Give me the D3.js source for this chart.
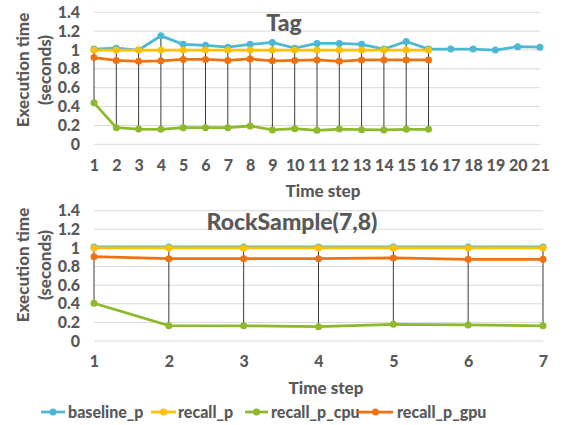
<!DOCTYPE html>
<html>
<head>
<meta charset="utf-8">
<script src="https://cdn.jsdelivr.net/npm/d3@7"></script>
<style>
  body { margin: 0; background: #fff; }
  text { font-family: Lato, "Open Sans", sans-serif; font-weight: 900; fill: #595959; }
</style>
</head>
<body>
<div id="chart"></div>
<script>
// series names + colours
const seriesNames = ["baseline_p", "recall_p", "recall_p_cpu", "recall_p_gpu"];
const seriesColors = ["#4bb8d4", "#ffc000", "#8cba2a", "#ef7212"];
const yTicks = [0, 0.2, 0.4, 0.6, 0.8, 1, 1.2, 1.4];

// Tag panel
const tagSteps = d3.range(1, 22);
const tagBaseline = [1.01, 1.02, 1.00, 1.15, 1.06, 1.05, 1.03, 1.06, 1.08, 1.02, 1.07, 1.07, 1.06, 1.01, 1.09, 1.01, 1.01, 1.01, 1.00, 1.035, 1.03];
const tagRecall = [1.00, 1.00, 1.00, 1.00, 1.00, 1.00, 1.00, 1.00, 1.00, 1.00, 1.00, 1.00, 1.00, 1.00, 1.00, 1.00];
const tagCpu = [0.44, 0.176, 0.162, 0.159, 0.176, 0.176, 0.176, 0.194, 0.152, 0.166, 0.148, 0.162, 0.155, 0.152, 0.159, 0.159];
const tagGpu = [0.92, 0.89, 0.88, 0.885, 0.90, 0.90, 0.89, 0.905, 0.885, 0.89, 0.895, 0.88, 0.895, 0.895, 0.895, 0.895];

// RockSample(7,8) panel
const rockSteps = d3.range(1, 8);
const rockBaseline = [1.01, 1.01, 1.01, 1.01, 1.01, 1.01, 1.01];
const rockRecall = [1.00, 1.00, 1.00, 1.00, 1.00, 1.00, 1.00];
const rockCpu = [0.405, 0.165, 0.163, 0.154, 0.179, 0.172, 0.163];
const rockGpu = [0.906, 0.885, 0.885, 0.885, 0.892, 0.878, 0.878];

const W = 563, H = 425;
const svg = d3.select("#chart").append("svg")
    .attr("width", W)
    .attr("height", H);

function drawPanel(opt) {
    const x = d3.scaleLinear()
        .domain([opt.steps[0], opt.steps[opt.steps.length - 1]])
        .range([opt.left, opt.right]);
    const y = d3.scaleLinear()
        .domain([0, 1.4])
        .range([opt.bottom, opt.top]);

    const g = svg.append("g");

    // gridlines
    g.selectAll(".grid")
        .data(yTicks)
        .join("line")
        .attr("x1", opt.left)
        .attr("x2", opt.right)
        .attr("y1", d => y(d))
        .attr("y2", d => y(d))
        .attr("stroke", "#d9d9d9")
        .attr("stroke-width", 1);

    // y axis labels
    g.append("g")
        .attr("transform", `translate(${opt.left},0)`)
        .call(d3.axisLeft(y).tickValues(yTicks).tickSize(0).tickPadding(14)
            .tickFormat(d => d3.format("~g")(d)))
        .call(a => a.select(".domain").remove())
        .selectAll("text")
        .style("font-size", "16px");

    // x axis labels
    g.append("g")
        .attr("transform", `translate(0,${opt.bottom})`)
        .call(d3.axisBottom(x).tickValues(opt.steps).tickSize(0).tickPadding(15)
            .tickFormat(d3.format("d")))
        .call(a => a.select(".domain").remove())
        .selectAll("text")
        .style("font-size", "16px");

    const series = opt.series.map((vals, i) => ({
        name: seriesNames[i],
        color: seriesColors[i],
        values: vals.map((v, j) => ({ step: opt.steps[j], v: v }))
    }));

    // high-low lines
    const hl = opt.steps.map((s, j) => {
        const vs = opt.series.filter(arr => j < arr.length).map(arr => arr[j]);
        return { step: s, hi: d3.max(vs), lo: d3.min(vs), n: vs.length };
    }).filter(d => d.n > 1);

    g.selectAll(".hl")
        .data(hl)
        .join("line")
        .attr("x1", d => x(d.step))
        .attr("x2", d => x(d.step))
        .attr("y1", d => y(d.hi))
        .attr("y2", d => y(d.lo))
        .attr("stroke", "#3a3a3a")
        .attr("stroke-width", 1);

    const line = d3.line()
        .x(d => x(d.step))
        .y(d => y(d.v));

    series.forEach(s => {
        g.append("path")
            .datum(s.values)
            .attr("fill", "none")
            .attr("stroke", s.color)
            .attr("stroke-width", 2.75)
            .attr("d", line);
        g.selectAll(null)
            .data(s.values)
            .join("circle")
            .attr("cx", d => x(d.step))
            .attr("cy", d => y(d.v))
            .attr("r", 3.5)
            .attr("fill", s.color);
    });

    // title
    g.append("text")
        .attr("x", opt.titleX)
        .attr("y", opt.top + 19)
        .attr("text-anchor", "middle")
        .style("font-size", "23px")
        .text(opt.title);

    // x axis title
    g.append("text")
        .attr("x", opt.xTitleX)
        .attr("y", opt.bottom + 53)
        .attr("text-anchor", "middle")
        .style("font-size", "17px")
        .text("Time step");

    // y axis title
    const yt = g.append("text")
        .attr("transform", `translate(0,${opt.yTitleY}) rotate(-90)`)
        .attr("text-anchor", "middle")
        .style("font-size", "17px");
    yt.append("tspan").attr("x", 0).attr("y", 29).text("Execution time");
    yt.append("tspan").attr("x", 0).attr("y", 51).text("(seconds)");
}

drawPanel({
    steps: tagSteps,
    series: [tagBaseline, tagRecall, tagCpu, tagGpu],
    left: 94, right: 540, top: 12.3, bottom: 144.3,
    title: "Tag", titleX: 284, xTitleX: 323, yTitleY: 70
});

drawPanel({
    steps: rockSteps,
    series: [rockBaseline, rockRecall, rockCpu, rockGpu],
    left: 94, right: 543, top: 210.7, bottom: 341,
    title: "RockSample(7,8)", titleX: 292, xTitleX: 326, yTitleY: 265
});

// legend: line start, line end, text start
const legendLayout = [[41, 65, 68], [151, 176, 178], [245, 268, 271], [358, 393, 397]];
const legend = svg.append("g").attr("transform", "translate(0,412)");
seriesNames.forEach((name, i) => {
    const [x0, x1, tx] = legendLayout[i];
    legend.append("line")
        .attr("x1", x0).attr("x2", x1)
        .attr("y1", 0).attr("y2", 0)
        .attr("stroke", seriesColors[i])
        .attr("stroke-width", 2.75);
    legend.append("circle")
        .attr("cx", (x0 + x1) / 2).attr("cy", 0).attr("r", 3.5)
        .attr("fill", seriesColors[i]);
    legend.append("text")
        .attr("x", tx).attr("y", 6)
        .style("font-size", "16px")
        .text(name);
});
</script>
</body>
</html>
